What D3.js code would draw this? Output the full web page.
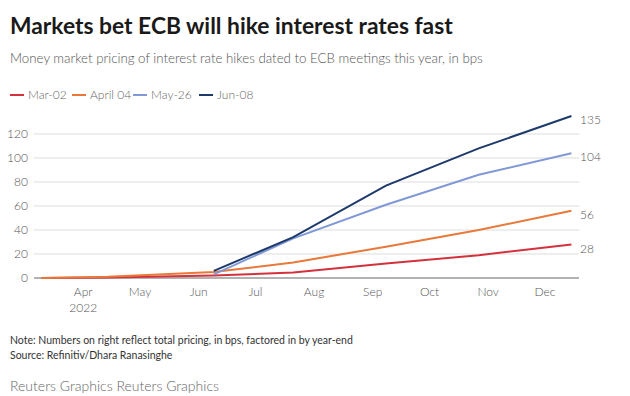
<!DOCTYPE html>
<html>
<head>
<meta charset="utf-8">
<script src="https://cdn.jsdelivr.net/npm/d3@7.9.0/dist/d3.min.js"></script>
<style>
  body { margin: 0; background: #fff; }
  svg { display: block; }
  text { font-family: Lato, "Noto Sans", sans-serif; }
</style>
</head>
<body>
<svg width="630" height="396"></svg>
<script>
// ECB meeting dates the pricing is attached to
const meetings = ['2022-03-10', '2022-04-14', '2022-06-09', '2022-07-21', '2022-09-08', '2022-10-27', '2022-12-15'];

// cumulative hikes priced (bps), one array per pricing date
const mar02 = [0, 0.5, 2, 4.5, 12, 19, 28];
const apr04 = [0, 1, 5, 13, 26, 40, 56];
const may26 = [null, null, 3, 33, 61, 86, 104];
const jun08 = [null, null, 6, 34, 77, 108, 135];

const seriesNames = ['Mar-02', 'April 04', 'May-26', 'Jun-08'];
const seriesColors = ['#d3323c', '#e8793a', '#8099d6', '#1d3a6b'];
const endLabels = ['28', '56', '104', '135'];
const yTicks = [0, 20, 40, 60, 80, 100, 120];

const parse = d3.timeParse('%Y-%m-%d');
const dates = meetings.map(parse);
const allSeries = [mar02, apr04, may26, jun08];

const svg = d3.select('svg');

let x = d3.scaleTime()
  .domain([new Date(2022, 2, 6), new Date(2022, 11, 19)])
  .range([34, 579]);
let y = d3.scaleLinear().domain([0, 120]).range([278, 134]);

function fitWidth(sel, w) {
  let len = sel.node().getComputedTextLength();
  let fs = +sel.attr('font-size');
  sel.attr('font-size', fs * w / len);
}

// title + subtitle
let title = svg.append('text')
  .attr('x', 10).attr('y', 34)
  .attr('font-size', 23).attr('font-weight', 700).attr('fill', '#1a1a1a')
  .text('Markets bet ECB will hike interest rates fast');
fitWidth(title, 443);

let sub = svg.append('text')
  .attr('x', 10).attr('y', 63)
  .attr('font-size', 14).attr('font-weight', 300).attr('fill', '#555')
  .text('Money market pricing of interest rate hikes dated to ECB meetings this year, in bps');
fitWidth(sub, 473);

// legend
let legendX = [10, 72, 133, 199];
seriesNames.forEach((name, i) => {
  let g = svg.append('g').attr('transform', `translate(${legendX[i]},95)`);
  g.append('line').attr('x1', 0).attr('x2', 14).attr('stroke', seriesColors[i]).attr('stroke-width', 2);
  g.append('text').attr('x', 18).attr('dy', '0.35em')
    .attr('font-size', 12).attr('font-weight', 300).attr('fill', '#666').text(name);
});

// gridlines + y labels
yTicks.forEach(t => {
  svg.append('line')
    .attr('x1', 34).attr('x2', 579)
    .attr('y1', y(t)).attr('y2', y(t))
    .attr('stroke', t === 0 ? '#999' : '#ddd')
    .attr('stroke-width', t === 0 ? 1.5 : 1);
  svg.append('text')
    .attr('x', 28).attr('y', y(t)).attr('dy', '0.35em')
    .attr('text-anchor', 'end').attr('font-size', 12).attr('font-weight', 300).attr('fill', '#555')
    .text(t);
});

// month labels
let months = d3.timeMonth.range(new Date(2022, 3, 1), new Date(2022, 11, 2));
months.forEach((m, i) => {
  svg.append('text')
    .attr('x', x(m)).attr('y', 296)
    .attr('text-anchor', 'middle').attr('font-size', 12).attr('font-weight', 300).attr('fill', '#555')
    .text(d3.timeFormat('%b')(m));
  if (i === 0) {
    svg.append('text')
      .attr('x', x(m)).attr('y', 312)
      .attr('text-anchor', 'middle').attr('font-size', 12).attr('font-weight', 300).attr('fill', '#555')
      .text('2022');
  }
});

// lines
let line = d3.line()
  .defined(d => d.v !== null)
  .x(d => x(d.date))
  .y(d => y(d.v));

allSeries.forEach((vals, i) => {
  let pts = vals.map((v, j) => ({ date: dates[j], v: v }));
  svg.append('path')
    .attr('d', line(pts))
    .attr('fill', 'none')
    .attr('stroke', seriesColors[i])
    .attr('stroke-width', 2);
  let last = vals[vals.length - 1];
  svg.append('text')
    .attr('x', 580).attr('y', y(last) + 4).attr('dy', '0.35em')
    .attr('font-size', 12).attr('font-weight', 300).attr('fill', '#555')
    .text(endLabels[i]);
});

// footer
svg.append('text').attr('x', 10).attr('y', 344)
  .attr('font-size', 10.5).attr('fill', '#333')
  .text('Note: Numbers on right reflect total pricing, in bps, factored in by year-end');
svg.append('text').attr('x', 10).attr('y', 359)
  .attr('font-size', 10.5).attr('fill', '#333')
  .text('Source: Refinitiv/Dhara Ranasinghe');
svg.append('text').attr('x', 10).attr('y', 391)
  .attr('font-size', 14).attr('font-weight', 300).attr('fill', '#666')
  .text('Reuters Graphics Reuters Graphics');
</script>
</body>
</html>
